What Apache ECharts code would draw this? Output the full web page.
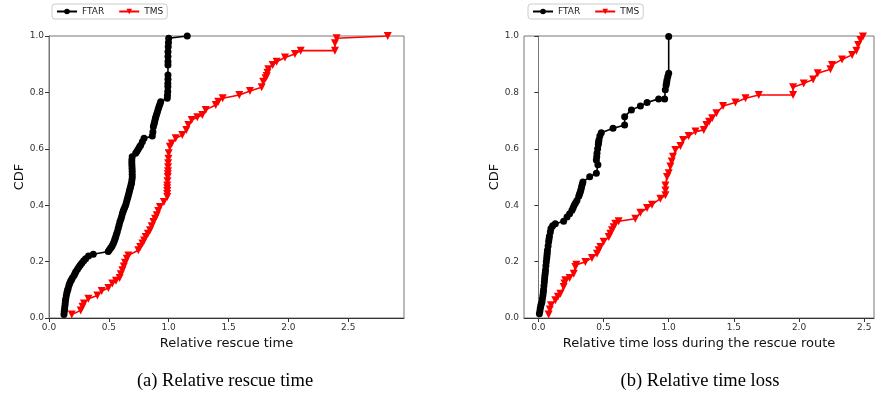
<!DOCTYPE html>
<html>
<head>
<meta charset="utf-8">
<script src="https://cdn.jsdelivr.net/npm/echarts@6/dist/echarts.min.js"></script>
<style>html,body{margin:0;padding:0;background:#fff}#c{width:875px;height:402px}</style>
</head>
<body>
<div id="c"></div>
<script>
// Panel (a): relative rescue time CDF
var rescueFTAR = [[0.125,0.012],[0.127,0.022],[0.13,0.03],[0.132,0.04],[0.135,0.05],[0.137,0.06],[0.14,0.068],[0.145,0.08],[0.15,0.09],[0.155,0.098],[0.16,0.105],[0.167,0.116],[0.173,0.123],[0.18,0.13],[0.188,0.136],[0.195,0.142],[0.209,0.151],[0.217,0.158],[0.225,0.165],[0.238,0.173],[0.25,0.181],[0.262,0.188],[0.275,0.195],[0.29,0.203],[0.306,0.21],[0.33,0.22],[0.37,0.226],[0.495,0.236],[0.505,0.242],[0.515,0.248],[0.523,0.253],[0.53,0.258],[0.538,0.265],[0.545,0.272],[0.551,0.28],[0.557,0.287],[0.563,0.296],[0.57,0.305],[0.578,0.317],[0.585,0.329],[0.592,0.34],[0.6,0.35],[0.607,0.36],[0.613,0.37],[0.619,0.378],[0.625,0.385],[0.632,0.392],[0.64,0.40],[0.646,0.409],[0.652,0.418],[0.658,0.427],[0.663,0.435],[0.668,0.443],[0.672,0.45],[0.677,0.458],[0.682,0.465],[0.686,0.473],[0.69,0.48],[0.693,0.49],[0.696,0.50],[0.695,0.51],[0.695,0.52],[0.694,0.53],[0.693,0.54],[0.692,0.55],[0.692,0.56],[0.695,0.572],[0.724,0.584],[0.735,0.591],[0.745,0.598],[0.756,0.606],[0.766,0.613],[0.78,0.625],[0.794,0.637],[0.863,0.645],[0.868,0.66],[0.872,0.678],[0.877,0.687],[0.882,0.695],[0.887,0.704],[0.891,0.712],[0.898,0.721],[0.905,0.73],[0.912,0.74],[0.919,0.749],[0.926,0.758],[0.933,0.767],[0.988,0.779],[0.99,0.79],[0.992,0.803],[0.993,0.82],[0.993,0.832],[0.994,0.847],[0.994,0.862],[0.994,0.897],[0.994,0.91],[0.994,0.927],[0.994,0.944],[0.996,0.962],[0.998,0.977],[1.0,0.992],[1.155,1.0]];
var rescueTMS = [[0.19,0.012],[0.265,0.027],[0.28,0.04],[0.292,0.051],[0.329,0.068],[0.404,0.08],[0.44,0.096],[0.496,0.106],[0.529,0.122],[0.56,0.132],[0.59,0.142],[0.6,0.155],[0.613,0.169],[0.625,0.183],[0.635,0.196],[0.65,0.21],[0.663,0.222],[0.746,0.24],[0.762,0.252],[0.78,0.264],[0.794,0.275],[0.808,0.287],[0.826,0.299],[0.844,0.311],[0.858,0.325],[0.872,0.34],[0.886,0.352],[0.9,0.364],[0.913,0.379],[0.927,0.394],[0.96,0.411],[0.988,0.429],[0.988,0.44],[0.988,0.45],[0.988,0.46],[0.988,0.47],[0.99,0.485],[0.992,0.50],[0.993,0.51],[0.994,0.52],[0.995,0.535],[0.996,0.549],[0.998,0.565],[1.0,0.584],[1.01,0.607],[1.025,0.619],[1.058,0.637],[1.114,0.649],[1.147,0.667],[1.164,0.684],[1.192,0.702],[1.239,0.712],[1.281,0.72],[1.309,0.738],[1.393,0.755],[1.414,0.767],[1.451,0.779],[1.59,0.791],[1.679,0.805],[1.777,0.818],[1.79,0.838],[1.81,0.85],[1.819,0.858],[1.825,0.87],[1.832,0.882],[1.869,0.897],[1.902,0.909],[1.972,0.924],[2.055,0.936],[2.103,0.948],[2.389,0.948],[2.389,0.974],[2.403,0.992],[2.83,1.0]];

// Panel (b): relative time loss CDF
var lossFTAR = [[0.008,0.015],[0.012,0.025],[0.015,0.035],[0.019,0.043],[0.022,0.05],[0.028,0.057],[0.031,0.068],[0.035,0.08],[0.038,0.09],[0.04,0.1],[0.043,0.114],[0.046,0.128],[0.048,0.139],[0.05,0.15],[0.053,0.16],[0.055,0.17],[0.058,0.185],[0.061,0.199],[0.064,0.21],[0.066,0.22],[0.068,0.23],[0.07,0.24],[0.075,0.255],[0.079,0.27],[0.082,0.28],[0.085,0.29],[0.092,0.305],[0.097,0.317],[0.11,0.327],[0.13,0.334],[0.194,0.343],[0.22,0.358],[0.24,0.37],[0.258,0.382],[0.267,0.391],[0.275,0.4],[0.285,0.408],[0.296,0.417],[0.31,0.432],[0.316,0.44],[0.322,0.447],[0.327,0.456],[0.332,0.465],[0.337,0.474],[0.342,0.482],[0.394,0.501],[0.445,0.513],[0.457,0.543],[0.445,0.56],[0.448,0.572],[0.45,0.584],[0.455,0.6],[0.46,0.615],[0.462,0.623],[0.465,0.631],[0.472,0.645],[0.483,0.657],[0.573,0.673],[0.662,0.684],[0.662,0.714],[0.714,0.738],[0.783,0.752],[0.834,0.764],[0.923,0.777],[0.969,0.777],[0.974,0.809],[0.98,0.825],[0.984,0.835],[0.987,0.844],[0.993,0.856],[1.0,0.868],[1.0,0.998]];
var lossTMS = [[0.079,0.012],[0.088,0.03],[0.097,0.045],[0.13,0.063],[0.15,0.075],[0.169,0.086],[0.194,0.11],[0.2,0.122],[0.207,0.134],[0.24,0.142],[0.271,0.157],[0.284,0.181],[0.292,0.189],[0.361,0.199],[0.411,0.213],[0.45,0.228],[0.463,0.24],[0.476,0.252],[0.501,0.27],[0.54,0.287],[0.552,0.299],[0.565,0.311],[0.578,0.322],[0.591,0.334],[0.616,0.343],[0.744,0.352],[0.783,0.373],[0.834,0.39],[0.872,0.402],[0.936,0.423],[0.975,0.435],[0.975,0.452],[0.975,0.47],[0.987,0.5],[1.0,0.513],[1.013,0.537],[1.023,0.555],[1.033,0.572],[1.051,0.596],[1.09,0.61],[1.11,0.631],[1.153,0.645],[1.205,0.661],[1.269,0.667],[1.289,0.684],[1.31,0.696],[1.333,0.708],[1.366,0.726],[1.417,0.752],[1.512,0.764],[1.589,0.779],[1.691,0.791],[1.954,0.791],[1.954,0.818],[2.036,0.832],[2.108,0.846],[2.143,0.868],[2.241,0.882],[2.253,0.897],[2.33,0.917],[2.407,0.933],[2.44,0.948],[2.453,0.968],[2.471,0.986],[2.49,0.998]];

var xTicks = [0, 0.5, 1, 1.5, 2, 2.5];
var yTicks = [0, 0.2, 0.4, 0.6, 0.8, 1.0];
var seriesNames = ['FTAR', 'TMS'];
var captions = ['(a) Relative rescue time', '(b) Relative time loss'];
var xNames = ['Relative rescue time', 'Relative time loss during the rescue route'];

var FONT = 'DejaVu Sans';
function fmt(v){ return v.toFixed(1); }

function xAxis(idx, min, max, name){
  return {
    type:'value', gridIndex:idx, min:min, max:max,
    name:name, nameLocation:'middle', nameGap:17,
    nameTextStyle:{fontFamily:FONT, fontSize:13, color:'#111'},
    axisLine:{show:true, onZero:false, lineStyle:{color:'#333', width:1}},
    axisTick:{show:true, length:4, lineStyle:{color:'#333'}, customValues:xTicks},
    axisLabel:{fontFamily:FONT, fontSize:9, color:'#333', margin:5, customValues:xTicks, formatter:fmt},
    splitLine:{show:false}
  };
}
function yAxis(idx){
  return {
    type:'value', gridIndex:idx, min:0, max:1,
    name:'CDF', nameLocation:'middle', nameGap:23, nameRotate:90,
    nameTextStyle:{fontFamily:FONT, fontSize:13, color:'#111'},
    axisLine:{show:true, lineStyle:{color:'#777', width:1}},
    axisTick:{show:true, length:4, lineStyle:{color:'#333'}, customValues:yTicks},
    axisLabel:{fontFamily:FONT, fontSize:9, color:'#333', margin:5, customValues:yTicks, formatter:fmt},
    splitLine:{show:false}
  };
}
function ser(name, data, xi, color, symbol, size, rot){
  return {
    name:name, type:'line', xAxisIndex:xi, yAxisIndex:xi, data:data,
    symbol:symbol, symbolSize:size, symbolRotate:rot, showAllSymbol:true,
    lineStyle:{color:color, width:1.6}, itemStyle:{color:color},
    animation:false, z:xi+2
  };
}
function legend(left){
  return {
    left:left, top:4, data:seriesNames, itemWidth:20, itemHeight:7, itemGap:14,
    padding:[3,4,3,4], borderColor:'#ccc', borderWidth:1, borderRadius:3,
    textStyle:{fontFamily:FONT, fontSize:9, color:'#222'}
  };
}

var chart = echarts.init(document.getElementById('c'), null, {renderer:'canvas'});
chart.setOption({
  animation:false,
  backgroundColor:'#fff',
  legend:[legend(52), legend(528)],
  grid:[
    {left:49, right:471, top:36, bottom:84, show:true, borderColor:'#777', borderWidth:1},
    {left:524, right:1, top:36, bottom:84, show:true, borderColor:'#777', borderWidth:1}
  ],
  xAxis:[xAxis(0, 0, 2.966, xNames[0]), xAxis(1, -0.11, 2.575, xNames[1])],
  yAxis:[yAxis(0), yAxis(1)],
  series:[
    ser(seriesNames[0], rescueFTAR, 0, '#000', 'circle', 7, 0),
    ser(seriesNames[1], rescueTMS, 0, '#ff0000', 'triangle', 8, 180),
    ser(seriesNames[0], lossFTAR, 1, '#000', 'circle', 7, 0),
    ser(seriesNames[1], lossTMS, 1, '#ff0000', 'triangle', 8, 180)
  ],
  graphic:[
    {type:'text', x:225, y:381, style:{text:captions[0], font:'18.5px "Liberation Serif"', fill:'#000', textAlign:'center', textVerticalAlign:'middle'}},
    {type:'text', x:700, y:381, style:{text:captions[1], font:'18.5px "Liberation Serif"', fill:'#000', textAlign:'center', textVerticalAlign:'middle'}}
  ]
});
</script>
</body>
</html>
